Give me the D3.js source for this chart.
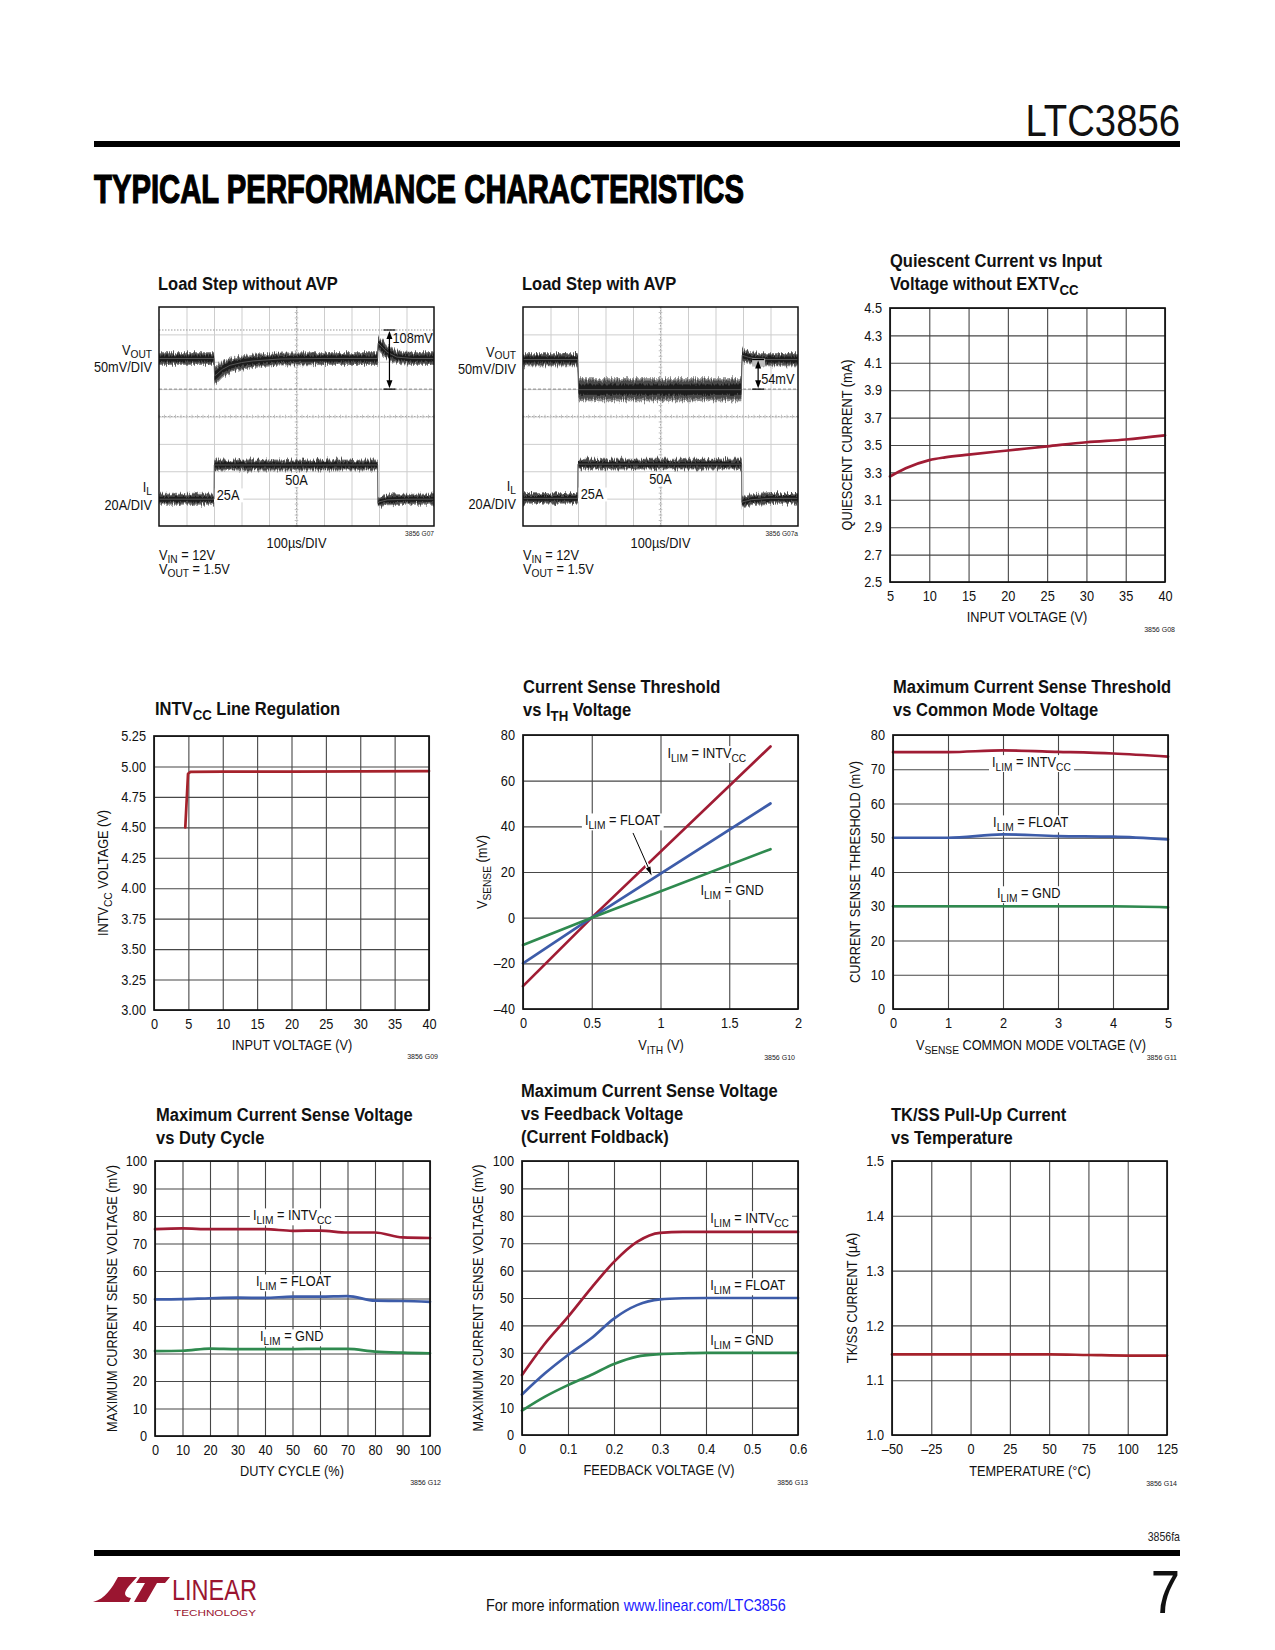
<!DOCTYPE html>
<html><head><meta charset="utf-8">
<script src="https://cdn.jsdelivr.net/npm/d3@7"></script>
<style>
html,body{margin:0;padding:0;background:#fff;}
svg{display:block;}
</style></head><body>
<svg id="page" width="1275" height="1650"></svg>
<script>
// ---------------- DATA ----------------
// Load Step without AVP (time µs, VOUT deviation mV, noise half-width mV, IL A)
const ls1VoutTime  = [0,200,202,212,230,258,300,342,440,600,795,797,812,829,865,920,1000];
const ls1VoutDev   = [0,0,-32,-28,-20,-12.5,-7.5,-4.5,-1,0,0,28,20,11.5,2.5,0,0];
const ls1VoutNoise = [12,12,18,17,15,14,13,13,12,12,12,13,13,12,12,12,12];
const ls1IlTime  = [0,200,201,795,796,800,830,900,1000];
const ls1IlAmp   = [25,25,50,50,22,23,24.5,25,25];
const ls1IlNoise = [4,4,4,4,4,4,4,4,4];
// Load Step with AVP
const ls2VoutTime  = [0,199,202,794,797,820,860,1000];
const ls2VoutDev   = [0,0,-55,-55,8,4,0,0];
const ls2VoutNoise = [12,12,21,21,12,12,12,12];
const ls2IlTime  = [0,199,200,795,796,800,830,900,1000];
const ls2IlAmp   = [25,25,50,50,22,22.5,24,25,25];
const ls2IlNoise = [4,4,4,4,4,4,4,4,4];
const scopeTimeGrid = [100,200,300,400,500,600,700,800,900];
const scopeDivGrid  = [1,2,3,4,5,6,7];

// Quiescent current vs input voltage
const qcInputV   = [5,7,10,12,15,20,25,30,35,40];
const qcCurrent  = [3.27,3.33,3.39,3.41,3.43,3.46,3.49,3.52,3.54,3.57];
const qcXTicks = [5,10,15,20,25,30,35,40];
const qcXLabels = ['5','10','15','20','25','30','35','40'];
const qcYTicks = [2.5,2.7,2.9,3.1,3.3,3.5,3.7,3.9,4.1,4.3,4.5];
const qcYLabels = ['2.5','2.7','2.9','3.1','3.3','3.5','3.7','3.9','4.1','4.3','4.5'];

// INTVcc line regulation
const intvInputV  = [4.55,4.95,5.3,10,20,30,40];
const intvVoltage = [4.50,4.94,4.955,4.957,4.958,4.96,4.962];
const intvXTicks = [0,5,10,15,20,25,30,35,40];
const intvXLabels = ['0','5','10','15','20','25','30','35','40'];
const intvYTicks = [3.00,3.25,3.50,3.75,4.00,4.25,4.50,4.75,5.00,5.25];
const intvYLabels = ['3.00','3.25','3.50','3.75','4.00','4.25','4.50','4.75','5.00','5.25'];

// Current sense threshold vs ITH voltage
const csVith  = [0,0.5,1.8];
const csIntv  = [-30,0,75];
const csFloat = [-20,0,50];
const csGnd   = [-12,0,30];
const csXTicks = [0,0.5,1,1.5,2];
const csXLabels = ['0','0.5','1','1.5','2'];
const csYTicks = [-40,-20,0,20,40,60,80];
const csYLabels = ['\u201340','\u201320','0','20','40','60','80'];

// Max current sense threshold vs common mode voltage
const cmVsense = [0,1,2,3,4,5];
const cmIntv   = [75.0,75.0,75.5,75.1,74.6,73.7];
const cmFloat  = [50.0,50.0,51.0,50.5,50.3,49.5];
const cmGnd    = [30.0,30.0,30.0,30.0,30.0,29.7];
const cmXTicks = [0,1,2,3,4,5];
const cmXLabels = ['0','1','2','3','4','5'];
const cmYTicks = [0,10,20,30,40,50,60,70,80];
const cmYLabels = ['0','10','20','30','40','50','60','70','80'];

// Max current sense voltage vs duty cycle
const dcDuty  = [0,10,20,30,40,50,60,70,80,90,100];
const dcIntv  = [75.2,75.5,75.2,75.2,75.2,74.6,74.7,74.0,74.0,72.2,72.0];
const dcFloat = [49.7,49.8,50.1,50.3,50.2,50.7,50.7,50.9,49.2,49.1,48.8];
const dcGnd   = [30.9,31.0,31.8,31.6,31.6,31.6,31.7,31.7,30.7,30.3,30.1];
const dcXTicks = [0,10,20,30,40,50,60,70,80,90,100];
const dcXLabels = ['0','10','20','30','40','50','60','70','80','90','100'];
const dcYTicks = [0,10,20,30,40,50,60,70,80,90,100];
const dcYLabels = ['0','10','20','30','40','50','60','70','80','90','100'];

// Max current sense voltage vs feedback voltage
const fbVoltage = [0,0.05,0.1,0.15,0.2,0.25,0.3,0.35,0.4,0.5,0.6];
const fbIntv  = [21.9,33.4,43.1,53.5,63.2,70.5,73.8,74.1,74.1,74.1,74.1];
const fbFloat = [14.8,22.5,29.2,35.2,42.5,47.4,49.5,49.9,50,50,50];
const fbGnd   = [8.9,14.0,18.2,21.9,25.9,28.6,29.5,29.8,30,30,30];
const fbXTicks = [0,0.1,0.2,0.3,0.4,0.5,0.6];
const fbXLabels = ['0','0.1','0.2','0.3','0.4','0.5','0.6'];
const fbYTicks = [0,10,20,30,40,50,60,70,80,90,100];
const fbYLabels = ['0','10','20','30','40','50','60','70','80','90','100'];

// TK/SS pull-up current vs temperature
const tkTemp    = [-50,-25,0,25,50,75,100,125];
const tkCurrent = [1.147,1.147,1.147,1.147,1.147,1.146,1.145,1.145];
const tkXTicks = [-50,-25,0,25,50,75,100,125];
const tkXLabels = ['\u201350','\u201325','0','25','50','75','100','125'];
const tkYTicks = [1.0,1.1,1.2,1.3,1.4,1.5];
const tkYLabels = ['1.0','1.1','1.2','1.3','1.4','1.5'];

// ---------------- DRAWING ----------------
const FONT = '"Liberation Sans",Arial,Helvetica,sans-serif';
const SX = 0.88, SXB = 0.87;
const RED = '#a01c34', RED2 = '#a5222b', BLUE = '#3d5ca9', GREEN = '#2f8a4f';
const svg = d3.select('#page').attr('font-family', FONT);

const defs = svg.append('defs');
function noiseFilter(id, freq, oct, seed, scale) {
  const f = defs.append('filter').attr('id', id).attr('x', '-2%').attr('y', '-40%').attr('width', '104%').attr('height', '180%');
  f.append('feTurbulence').attr('type', 'fractalNoise').attr('baseFrequency', freq).attr('numOctaves', oct).attr('seed', seed).attr('result', 't');
  f.append('feColorMatrix').attr('in', 't').attr('type', 'matrix')
    .attr('values', '0 0 0 0 0.5  0 1 0 0 0  0 0 1 0 0  0 0 0 0 1').attr('result', 't2');
  f.append('feDisplacementMap').attr('in', 'SourceGraphic').attr('in2', 't2').attr('scale', scale)
    .attr('xChannelSelector', 'R').attr('yChannelSelector', 'G');
}
noiseFilter('noise', '0.9 0.06', 2, 4, 9);
noiseFilter('noise2', '1.3 0.1', 1, 9, 5);

// condensed text: horizontally scaled Liberation Sans, with _{sub} markup
function rich(parent, str, o) {
  const fs = o.fs;
  const outer = parent.append('g');
  let tf = `translate(${o.x || 0},${o.y || 0})`;
  if (o.rotate) tf += ` rotate(${o.rotate})`;
  tf += ` scale(${o.sx || (o.weight === 'bold' ? SXB : SX)},1)`;
  const t = outer.append('g').attr('transform', tf).append('text')
    .attr('y', o.dy || 0)
    .attr('font-size', fs).attr('text-anchor', o.anchor || 'start')
    .attr('font-weight', o.weight || 'normal').attr('fill', o.fill || '#111');
  const parts = str.split(/(_\{[^}]*\})/);
  const d = fs * (o.subDrop || 0.28), sfs = fs * 0.8;
  let shifted = false;
  parts.forEach(p => {
    if (!p) return;
    if (p.startsWith('_{')) {
      t.append('tspan').attr('font-size', sfs).attr('dy', d).text(p.slice(2, -1));
      shifted = true;
    } else {
      const ts = t.append('tspan').text(p);
      if (shifted) { ts.attr('dy', -d); shifted = false; }
    }
  });
  return outer;
}
function whiteBg(outer, pad) {
  const bb = outer.node().getBBox();
  outer.insert('rect', ':first-child').attr('x', bb.x - pad).attr('y', bb.y + 1)
    .attr('width', bb.width + 2 * pad).attr('height', bb.height - 2).attr('fill', '#fff');
}
function styleAxis(a, isY) {
  a.attr('font-family', FONT).attr('font-size', 14.5);
  a.select('.domain').remove();
  a.selectAll('.tick line').attr('stroke', '#474747').attr('stroke-width', 1.1);
  a.selectAll('.tick text').attr('fill', '#111').each(function () {
    const s = d3.select(this);
    if (isY) s.attr('x', +s.attr('x') / SX);
    s.attr('transform', `scale(${SX},1)`);
  });
}

function drawXY(c) {
  const g = svg.append('g');
  const x = d3.scaleLinear().domain(c.xDomain).range([c.left, c.left + c.w]);
  const y = d3.scaleLinear().domain(c.yDomain).range([c.top + c.h, c.top]);
  const ya = g.append('g').attr('transform', `translate(${c.left},0)`)
    .call(d3.axisLeft(y).tickValues(c.yTicks).tickSize(-c.w).tickPadding(8).tickFormat((d, i) => c.yLabels[i]));
  styleAxis(ya, true);
  const xa = g.append('g').attr('transform', `translate(0,${c.top + c.h})`)
    .call(d3.axisBottom(x).tickValues(c.xTicks).tickSize(-c.h).tickPadding(9).tickFormat((d, i) => c.xLabels[i]));
  styleAxis(xa, false);
  (c.labels || []).forEach(l => {
    const t = rich(g, l.text, { x: x(l.at[0]), y: y(l.at[1]), fs: 14.5 });
    whiteBg(t, 3);
  });
  c.series.forEach(s => {
    const line = d3.line().x(d => x(d[0])).y(d => y(d[1])).curve(s.curve || d3.curveMonotoneX);
    g.append('path').datum(d3.zip(s.x, s.y)).attr('d', line).attr('fill', 'none')
      .attr('stroke', s.color).attr('stroke-width', s.width || 2.7).attr('stroke-linejoin', 'round').attr('stroke-linecap', 'round');
  });
  if (c.extra) c.extra(g, x, y);
  g.append('rect').attr('x', c.left).attr('y', c.top).attr('width', c.w).attr('height', c.h)
    .attr('fill', 'none').attr('stroke', '#111').attr('stroke-width', 1.7);
  c.title.forEach((tl, i) => rich(g, tl, { x: c.titleX, y: c.titleY + i * 23, fs: 19, weight: 'bold' }));
  rich(g, c.xLabel, { x: c.xLabelX, y: c.xLabelY, fs: 14.5, anchor: 'middle' });
  rich(g, c.yLabel, { x: c.yLabelX, y: c.top + c.h / 2, rotate: -90, dy: 14.5 * 0.35, fs: 14.5, anchor: 'middle' });
  rich(g, c.code, { x: c.codeX, y: c.codeY, fs: 8, anchor: 'end', fill: '#222' });
}

function drawScope(c) {
  const g = svg.append('g');
  const x = d3.scaleLinear().domain([0, 1000]).range([c.left, c.left + c.w]);
  const y = d3.scaleLinear().domain([0, 8]).range([c.top + c.h, c.top]);
  const clipId = 'clip' + c.code.replace(/\s/g, '');
  defs.append('clipPath').attr('id', clipId).append('rect')
    .attr('x', c.left).attr('y', c.top).attr('width', c.w).attr('height', c.h);
  const gx = g.append('g').attr('transform', `translate(0,${c.top + c.h})`)
    .call(d3.axisBottom(x).tickValues(scopeTimeGrid).tickSize(-c.h).tickFormat(''));
  gx.select('.domain').remove();
  gx.selectAll('line').attr('stroke', '#cdcdcd').attr('stroke-width', 1);
  const gy = g.append('g').attr('transform', `translate(${c.left},0)`)
    .call(d3.axisLeft(y).tickValues(scopeDivGrid).tickSize(-c.w).tickFormat(''));
  gy.select('.domain').remove();
  gy.selectAll('line').attr('stroke', '#cdcdcd').attr('stroke-width', 1);
  // center graticule with minor ticks
  g.append('line').attr('x1', x(500)).attr('x2', x(500)).attr('y1', c.top).attr('y2', c.top + c.h)
    .attr('stroke', '#a8a8a8').attr('stroke-dasharray', '1.5,1.5');
  g.append('line').attr('x1', c.left).attr('x2', c.left + c.w).attr('y1', y(4)).attr('y2', y(4))
    .attr('stroke', '#a8a8a8').attr('stroke-dasharray', '1.5,1.5');
  d3.range(0, 8.001, 0.2).forEach(v => g.append('line').attr('x1', x(500) - 1.8).attr('x2', x(500) + 1.8)
    .attr('y1', y(v)).attr('y2', y(v)).attr('stroke', '#c2c2c2'));
  d3.range(0, 1000.1, 20).forEach(v => g.append('line').attr('y1', y(4) - 1.8).attr('y2', y(4) + 1.8)
    .attr('x1', x(v)).attr('x2', x(v)).attr('stroke', '#c2c2c2'));
  g.append('line').attr('x1', c.left).attr('x2', c.left + c.w).attr('y1', y(5)).attr('y2', y(5))
    .attr('stroke', '#8a8a8a').attr('stroke-dasharray', '3,2');
  if (c.cursorTop) g.append('line').attr('x1', c.left).attr('x2', c.left + c.w)
    .attr('y1', y(c.voutOff + c.ann[0] / 50)).attr('y2', y(c.voutOff + c.ann[0] / 50))
    .attr('stroke', '#999').attr('stroke-dasharray', '1.5,1.5');

  const t50 = rich(g, '50A', { x: x(c.l50[0]), y: y(c.ilOff + c.l50[1] / 20), fs: 14.5, anchor: 'middle' });
  whiteBg(t50, 3);
  const t25 = rich(g, '25A', { x: x(c.l25[0]), y: y(c.ilOff + c.l25[1] / 20), fs: 14.5 });
  whiteBg(t25, 3);

  const tr = g.append('g').attr('clip-path', `url(#${clipId})`);
  function band(ts, vals, noise, off, scale, filt, k, color) {
    const data = d3.zip(ts, vals, noise);
    const area = d3.area().x(d => x(d[0]))
      .y0(d => y(off + (d[1] - d[2] * k) / scale)).y1(d => y(off + (d[1] + d[2] * k) / scale));
    tr.append('path').datum(data).attr('d', area).attr('fill', color).attr('filter', `url(#${filt})`);
  }
  [[c.voutT, c.voutV, c.voutN, c.voutOff, 50], [c.ilT, c.ilA, c.ilN, c.ilOff, 20]].forEach(s => {
    band(s[0], s[1], s[2], s[3], s[4], 'noise', 1.0, '#8f8f8f');
    band(s[0], s[1], s[2], s[3], s[4], 'noise', 0.8, '#4a4a4a');
    band(s[0], s[1], s[2], s[3], s[4], 'noise2', 0.45, '#1c1c1c');
    tr.append('path').datum(d3.zip(s[0], s[1]))
      .attr('d', d3.line().x(d => x(d[0])).y(d => y(s[3] + d[1] / s[4])))
      .attr('fill', 'none').attr('stroke', '#555').attr('stroke-width', 1);
  });

  g.append('rect').attr('x', c.left).attr('y', c.top).attr('width', c.w).attr('height', c.h)
    .attr('fill', 'none').attr('stroke', '#111').attr('stroke-width', 1.5);

  // measurement arrow
  const ya1 = y(c.voutOff + c.ann[0] / 50), ya2 = y(c.voutOff + c.ann[1] / 50), ax = x(c.annT);
  if (c.annBox) g.append('rect').attr('x', ax - 6).attr('y', ya1 - 1).attr('width', 13).attr('height', 8).attr('fill', '#bdbdbd');
  g.append('line').attr('x1', ax - 6).attr('x2', ax + 6).attr('y1', ya1).attr('y2', ya1).attr('stroke', '#000').attr('stroke-width', 1.2);
  g.append('line').attr('x1', ax - 6).attr('x2', ax + 6).attr('y1', ya2).attr('y2', ya2).attr('stroke', '#000').attr('stroke-width', 1.2);
  g.append('line').attr('x1', ax).attr('x2', ax).attr('y1', ya1 + 6).attr('y2', ya2 - 6).attr('stroke', '#000').attr('stroke-width', 1.2);
  g.append('path').attr('d', `M${ax},${ya1 + 1}L${ax - 3},${ya1 + 9}L${ax + 3},${ya1 + 9}Z`).attr('fill', '#000');
  g.append('path').attr('d', `M${ax},${ya2 - 1}L${ax - 3},${ya2 - 9}L${ax + 3},${ya2 - 9}Z`).attr('fill', '#000');
  rich(g, c.annLabel, { x: ax + 3, y: c.annLabelY, fs: 14.5 });

  // left labels
  const lx = c.left - 7;
  rich(g, 'V_{OUT}', { x: lx, y: y(c.voutOff) - 3, fs: 14.5, anchor: 'end', subDrop: 0.2 });
  rich(g, '50mV/DIV', { x: lx, y: y(c.voutOff) + 14, fs: 14.5, anchor: 'end' });
  rich(g, 'I_{L}', { x: lx, y: y(c.ilOff + 25 / 20) - 7, fs: 14.5, anchor: 'end', subDrop: 0.2 });
  rich(g, '20A/DIV', { x: lx, y: y(c.ilOff + 25 / 20) + 11, fs: 14.5, anchor: 'end' });
  // title & notes
  rich(g, c.title, { x: c.left - 1, y: c.top - 17, fs: 19, weight: 'bold' });
  rich(g, c.code, { x: c.left + c.w, y: c.top + c.h + 10, fs: 7.5, anchor: 'end', fill: '#222' });
  rich(g, '100\u00b5s/DIV', { x: x(500), y: c.top + c.h + 22, fs: 14.5, anchor: 'middle' });
  rich(g, 'V_{IN} = 12V', { x: c.left, y: c.top + c.h + 34, fs: 14.5, subDrop: 0.2 });
  rich(g, 'V_{OUT} = 1.5V', { x: c.left, y: c.top + c.h + 48, fs: 14.5, subDrop: 0.2 });
}

// ----- header -----
rich(svg, 'LTC3856', { x: 1180, y: 136, fs: 44, anchor: 'end', sx: 0.87, fill: '#111' });
svg.append('rect').attr('x', 94).attr('y', 141).attr('width', 1086).attr('height', 6).attr('fill', '#000');
svg.append('text').attr('x', 94).attr('y', 203).attr('font-size', 40).attr('font-weight', 'bold')
  .attr('textLength', 650).attr('lengthAdjust', 'spacingAndGlyphs').attr('fill', '#000')
  .attr('stroke', '#000').attr('stroke-width', 1.2)
  .text('TYPICAL PERFORMANCE CHARACTERISTICS');

// ----- scopes -----
drawScope({ left: 159, top: 307, w: 275, h: 219, code: '3856 G07', title: 'Load Step without AVP',
  voutT: ls1VoutTime, voutV: ls1VoutDev, voutN: ls1VoutNoise, voutOff: 6.12,
  ilT: ls1IlTime, ilA: ls1IlAmp, ilN: ls1IlNoise, ilOff: -0.27,
  ann: [52, -56], annT: 838, annLabel: '108mV', annLabelY: 343, cursorTop: true,
  l50: [500, 35.5], l25: [210, 24.3] });
drawScope({ left: 523, top: 307, w: 275, h: 219, code: '3856 G07a', title: 'Load Step with AVP',
  voutT: ls2VoutTime, voutV: ls2VoutDev, voutN: ls2VoutNoise, voutOff: 6.08,
  ilT: ls2IlTime, ilA: ls2IlAmp, ilN: ls2IlNoise, ilOff: -0.24,
  ann: [0, -54], annT: 855, annLabel: '54mV', annLabelY: 384, annBox: true,
  l50: [500, 35.5], l25: [210, 24.3] });

// ----- XY charts -----
drawXY({ left: 890, top: 308, w: 275, h: 274, xDomain: [5, 40], yDomain: [2.5, 4.5],
  xTicks: qcXTicks, xLabels: qcXLabels, yTicks: qcYTicks, yLabels: qcYLabels,
  series: [{ x: qcInputV, y: qcCurrent, color: RED }],
  title: ['Quiescent Current vs Input', 'Voltage without EXTV_{CC}'], titleX: 890, titleY: 267,
  xLabel: 'INPUT VOLTAGE (V)', xLabelX: 1027, xLabelY: 622,
  yLabel: 'QUIESCENT CURRENT (mA)', yLabelX: 847, code: '3856 G08', codeX: 1175, codeY: 632 });

drawXY({ left: 154, top: 736, w: 275, h: 274, xDomain: [0, 40], yDomain: [3, 5.25],
  xTicks: intvXTicks, xLabels: intvXLabels, yTicks: intvYTicks, yLabels: intvYLabels,
  series: [{ x: intvInputV, y: intvVoltage, color: RED2, curve: d3.curveLinear }],
  title: ['INTV_{CC} Line Regulation'], titleX: 155, titleY: 715,
  xLabel: 'INPUT VOLTAGE (V)', xLabelX: 292, xLabelY: 1050,
  yLabel: 'INTV_{CC} VOLTAGE (V)', yLabelX: 103, code: '3856 G09', codeX: 438, codeY: 1059 });

drawXY({ left: 523, top: 735, w: 275, h: 274, xDomain: [0, 2], yDomain: [-40, 80],
  xTicks: csXTicks, xLabels: csXLabels, yTicks: csYTicks, yLabels: csYLabels,
  series: [{ x: csVith, y: csIntv, color: RED, curve: d3.curveLinear },
           { x: csVith, y: csFloat, color: BLUE, curve: d3.curveLinear },
           { x: csVith, y: csGnd, color: GREEN, curve: d3.curveLinear }],
  labels: [{ text: 'I_{LIM} = INTV_{CC}', at: [1.05, 70] }, { text: 'I_{LIM} = FLOAT', at: [0.45, 40.5] },
           { text: 'I_{LIM} = GND', at: [1.29, 10] }],
  extra: (g, x, y) => {
    const x1 = x(0.80), y1 = y(37.1), x2 = x(0.935), y2 = y(18.5);
    g.append('line').attr('x1', x1).attr('y1', y1).attr('x2', x2).attr('y2', y2).attr('stroke', '#fff').attr('stroke-width', 4);
    g.append('line').attr('x1', x1).attr('y1', y1).attr('x2', x2 - 2).attr('y2', y2 - 5).attr('stroke', '#000').attr('stroke-width', 1);
    const ang = Math.atan2(y2 - y1, x2 - x1);
    const p = (r, a) => [x2 - r * Math.cos(ang + a), y2 - r * Math.sin(ang + a)];
    const a1 = p(9, 0.28), a2 = p(9, -0.28);
    g.append('path').attr('d', `M${x2},${y2}L${a1[0]},${a1[1]}L${a2[0]},${a2[1]}Z`).attr('fill', '#000');
  },
  title: ['Current Sense Threshold', 'vs I_{TH} Voltage'], titleX: 523, titleY: 693,
  xLabel: 'V_{ITH} (V)', xLabelX: 661, xLabelY: 1050,
  yLabel: 'V_{SENSE} (mV)', yLabelX: 482, code: '3856 G10', codeX: 795, codeY: 1060 });

drawXY({ left: 893, top: 735, w: 275, h: 274, xDomain: [0, 5], yDomain: [0, 80],
  xTicks: cmXTicks, xLabels: cmXLabels, yTicks: cmYTicks, yLabels: cmYLabels,
  series: [{ x: cmVsense, y: cmIntv, color: RED }, { x: cmVsense, y: cmFloat, color: BLUE },
           { x: cmVsense, y: cmGnd, color: GREEN }],
  labels: [{ text: 'I_{LIM} = INTV_{CC}', at: [1.8, 70.7] }, { text: 'I_{LIM} = FLOAT', at: [1.82, 53.1] },
           { text: 'I_{LIM} = GND', at: [1.89, 32.4] }],
  title: ['Maximum Current Sense Threshold', 'vs Common Mode Voltage'], titleX: 893, titleY: 693,
  xLabel: 'V_{SENSE} COMMON MODE VOLTAGE (V)', xLabelX: 1031, xLabelY: 1050,
  yLabel: 'CURRENT SENSE THRESHOLD (mV)', yLabelX: 855, code: '3856 G11', codeX: 1177, codeY: 1060 });

drawXY({ left: 155, top: 1161, w: 275, h: 275, xDomain: [0, 100], yDomain: [0, 100],
  xTicks: dcXTicks, xLabels: dcXLabels, yTicks: dcYTicks, yLabels: dcYLabels,
  series: [{ x: dcDuty, y: dcIntv, color: RED }, { x: dcDuty, y: dcFloat, color: BLUE },
           { x: dcDuty, y: dcGnd, color: GREEN }],
  labels: [{ text: 'I_{LIM} = INTV_{CC}', at: [35.6, 78.5] }, { text: 'I_{LIM} = FLOAT', at: [36.7, 54.5] },
           { text: 'I_{LIM} = GND', at: [38.2, 34.5] }],
  title: ['Maximum Current Sense Voltage', 'vs Duty Cycle'], titleX: 156, titleY: 1121,
  xLabel: 'DUTY CYCLE (%)', xLabelX: 292, xLabelY: 1476,
  yLabel: 'MAXIMUM CURRENT SENSE VOLTAGE (mV)', yLabelX: 112, code: '3856 G12', codeX: 441, codeY: 1485 });

drawXY({ left: 522, top: 1161, w: 276, h: 274, xDomain: [0, 0.6], yDomain: [0, 100],
  xTicks: fbXTicks, xLabels: fbXLabels, yTicks: fbYTicks, yLabels: fbYLabels,
  series: [{ x: fbVoltage, y: fbIntv, color: RED }, { x: fbVoltage, y: fbFloat, color: BLUE },
           { x: fbVoltage, y: fbGnd, color: GREEN }],
  labels: [{ text: 'I_{LIM} = INTV_{CC}', at: [0.409, 77.4] }, { text: 'I_{LIM} = FLOAT', at: [0.409, 52.9] },
           { text: 'I_{LIM} = GND', at: [0.409, 32.8] }],
  title: ['Maximum Current Sense Voltage', 'vs Feedback Voltage', '(Current Foldback)'], titleX: 521, titleY: 1097,
  xLabel: 'FEEDBACK VOLTAGE (V)', xLabelX: 659, xLabelY: 1475,
  yLabel: 'MAXIMUM CURRENT SENSE VOLTAGE (mV)', yLabelX: 478, code: '3856 G13', codeX: 808, codeY: 1485 });

drawXY({ left: 892, top: 1161, w: 275, h: 274, xDomain: [-50, 125], yDomain: [1.0, 1.5],
  xTicks: tkXTicks, xLabels: tkXLabels, yTicks: tkYTicks, yLabels: tkYLabels,
  series: [{ x: tkTemp, y: tkCurrent, color: RED2 }],
  title: ['TK/SS Pull-Up Current', 'vs Temperature'], titleX: 891, titleY: 1121,
  xLabel: 'TEMPERATURE (\u00b0C)', xLabelX: 1030, xLabelY: 1476,
  yLabel: 'TK/SS CURRENT (\u00b5A)', yLabelX: 852, code: '3856 G14', codeX: 1177, codeY: 1486 });

// ----- footer -----
rich(svg, '3856fa', { x: 1180, y: 1541, fs: 12, anchor: 'end', fill: '#222' });
svg.append('rect').attr('x', 94).attr('y', 1550).attr('width', 1086).attr('height', 6).attr('fill', '#000');
const logo = svg.append('g').attr('fill', '#9a1530');
logo.append('path').attr('d', 'M93,1602 C105,1599 112,1588 118,1577 L137,1577 L129,1586 C123,1593 124,1597 131,1598 L129,1602 Z');
logo.append('path').attr('d', 'M140,1577 L170,1577 L165,1583 L157,1583 L146,1602 L134,1602 L145,1583 L136,1583 Z');
logo.append('text').attr('x', 172).attr('y', 1600).attr('font-size', 30).attr('textLength', 85)
  .attr('lengthAdjust', 'spacingAndGlyphs').attr('fill', '#9a1530').text('LINEAR');
logo.append('text').attr('x', 174).attr('y', 1616).attr('font-size', 9.5).attr('textLength', 82)
  .attr('lengthAdjust', 'spacingAndGlyphs').attr('fill', '#9a1530').text('TECHNOLOGY');
const ft = svg.append('g').attr('transform', 'translate(486,1611) scale(0.9,1)').append('text')
  .attr('font-size', 16).attr('fill', '#111');
ft.append('tspan').text('For more information ');
ft.append('tspan').attr('fill', '#1a1aff').text('www.linear.com/LTC3856');
rich(svg, '7', { x: 1180, y: 1613, fs: 62, anchor: 'end', sx: 0.85, fill: '#111' });
</script>
</body></html>
